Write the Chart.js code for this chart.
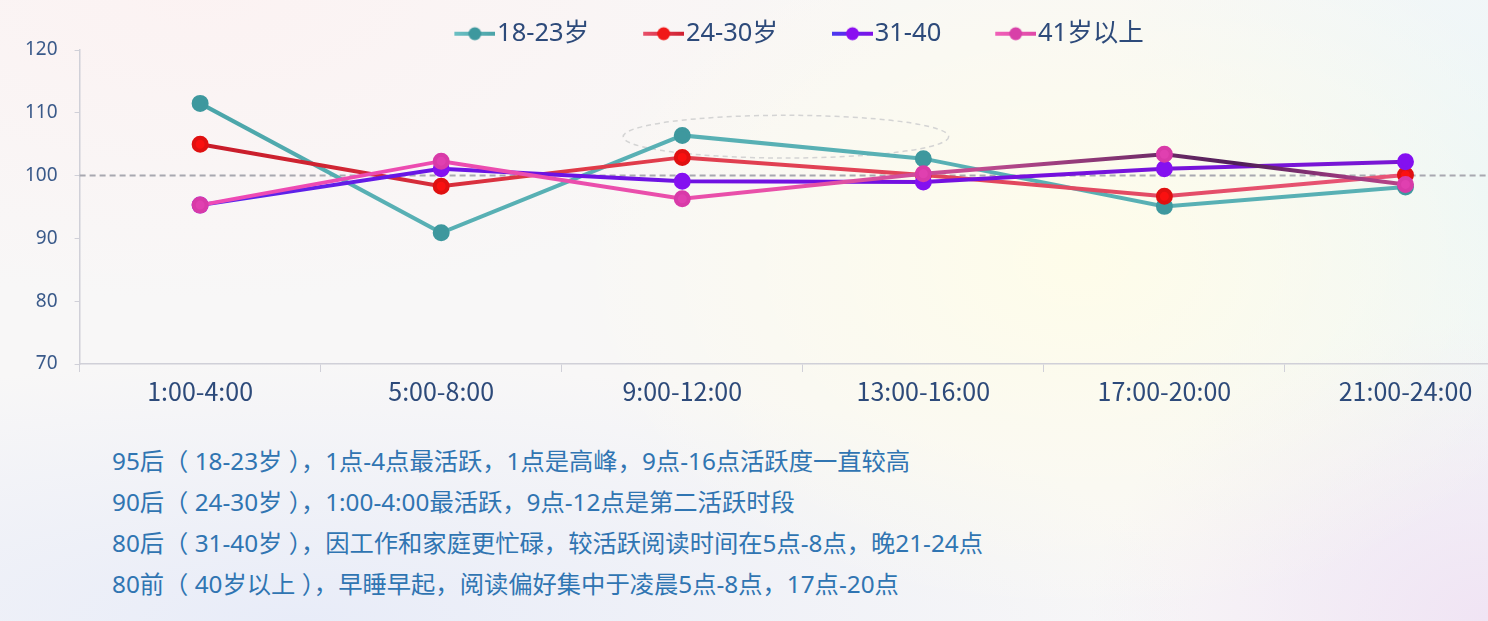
<!DOCTYPE html>
<html lang="zh-CN">
<head>
<meta charset="utf-8">
<title>各年龄段阅读活跃时段</title>
<script src="https://cdn.jsdelivr.net/npm/chart.js@4/dist/chart.umd.min.js"></script>
<style>
    html, body {
        margin: 0;
        padding: 0;
        width: 1488px;
        height: 621px;
        overflow: hidden;
    }
    body {
        position: relative;
        font-family: 'Noto Sans', 'Noto Sans CJK SC', sans-serif;
        background:
            radial-gradient(ellipse 520px 360px at 1080px 260px, rgba(255, 253, 232, 0.9), rgba(255, 253, 232, 0) 100%),
            radial-gradient(ellipse 700px 300px at 200px 0px, rgba(252, 242, 242, 0.9), rgba(252, 242, 242, 0) 100%),
            radial-gradient(ellipse 900px 260px at 300px 621px, rgba(232, 236, 248, 1), rgba(232, 236, 248, 0) 100%),
            radial-gradient(ellipse 400px 300px at 1488px 621px, rgba(240, 228, 244, 1), rgba(240, 228, 244, 0) 100%),
            radial-gradient(ellipse 400px 500px at 1488px 200px, rgba(236, 246, 248, 1), rgba(236, 246, 248, 0) 100%),
            #f8f7f7;
    }
    #chartBox {
        position: absolute;
        left: 0;
        top: 0;
        width: 1600px;
        height: 419px;
    }
    #notes {
        position: absolute;
        left: 112px;
        top: 440px;
        margin: 0;
        padding: 0;
        list-style: none;
        color: #3075b2;
        font-size: 24.3px;
        line-height: 41px;
        white-space: nowrap;
    }
</style>
</head>
<body>
<div id="chartBox"><canvas id="activityChart"></canvas></div>
<ul id="notes"></ul>

<script>
const timeSlots = ['1:00-4:00', '5:00-8:00', '9:00-12:00', '13:00-16:00', '17:00-20:00', '21:00-24:00'];
const seriesNames = ['18-23岁', '24-30岁', '31-40', '41岁以上'];
const age18to23 = [111.5, 90.9, 106.4, 102.7, 95.1, 98.2];
const age24to30 = [105.0, 98.3, 102.9, 100.1, 96.7, 100.1];
const age31to40 = [95.3, 101.1, 99.1, 99.0, 101.1, 102.2];
const age41plus = [95.3, 102.3, 96.3, 100.3, 103.4, 98.6];
const yTicks = [70, 80, 90, 100, 110, 120];
const baseline = 100;
const noteLines = [
    '95后（ 18-23岁 ），1点-4点最活跃，1点是高峰，9点-16点活跃度一直较高',
    '90后（ 24-30岁 ），1:00-4:00最活跃，9点-12点是第二活跃时段',
    '80后（ 31-40岁 ），因工作和家庭更忙碌，较活跃阅读时间在5点-8点，晚21-24点',
    '80前（ 40岁以上 ），早睡早起，阅读偏好集中于凌晨5点-8点，17点-20点'
];

const FONT = "'Noto Sans', 'Noto Sans CJK SC', sans-serif";
const FONT_NARROW = "'Noto Sans CJK SC', 'Noto Sans', sans-serif";

document.getElementById('notes').innerHTML = noteLines.map(t => '<li>' + t + '</li>').join('');

// horizontal gradient across the plot area
function lineGradient(stops, fallback) {
    return function (context) {
        const chart = context.chart;
        const area = chart.chartArea;
        if (!area) return fallback;
        const g = chart.ctx.createLinearGradient(area.left, 0, area.right, 0);
        stops.forEach(s => g.addColorStop(s[0], s[1]));
        return g;
    };
}

// legend marker: short line with a dot, drawn in the right part of the image
const MARK_BOX = 74;
function legendMarker(lineColor, dotColor) {
    const c = document.createElement('canvas');
    c.width = 96;
    c.height = 16;
    const x = c.getContext('2d');
    const g = x.createLinearGradient(55, 0, 96, 0);
    g.addColorStop(0, lineColor[0]);
    g.addColorStop(1, lineColor[1]);
    x.strokeStyle = g;
    x.lineWidth = 4;
    x.beginPath();
    x.moveTo(55, 8);
    x.lineTo(96, 8);
    x.stroke();
    x.fillStyle = dotColor;
    x.beginPath();
    x.arc(75.5, 8, 6.5, 0, Math.PI * 2);
    x.fill();
    return c;
}

const markers = [
    legendMarker(['#6cc0c4', '#4aa3a8'], '#3e989e'),
    legendMarker(['#e8506a', '#d02030'], '#f01818'),
    legendMarker(['#4a3af0', '#8010e8'], '#8a10f0'),
    legendMarker(['#f060b8', '#e04aa8'], '#d840a8')
];

// dashed reference line at 100 and dashed ellipse around 9:00-16:00
const decorations = {
    id: 'decorations',
    beforeDatasetsDraw(chart) {
        const { ctx, chartArea, scales } = chart;
        const y = scales.y.getPixelForValue(baseline);
        ctx.save();
        ctx.strokeStyle = '#a8a8b0';
        ctx.lineWidth = 2;
        ctx.setLineDash([6, 4]);
        ctx.beginPath();
        ctx.moveTo(chartArea.left, y);
        ctx.lineTo(chart.width, y);
        ctx.stroke();

        const x1 = scales.x.getPixelForValue(2);
        const x2 = scales.x.getPixelForValue(3);
        const step = x2 - x1;
        const cx = x1 + step * 0.43;
        const cy = scales.y.getPixelForValue(106.2);
        const ry = scales.y.getPixelForValue(102.8) - cy;
        ctx.strokeStyle = '#d4d4d4';
        ctx.lineWidth = 1.5;
        ctx.setLineDash([5, 4]);
        ctx.beginPath();
        ctx.ellipse(cx, cy, step * 0.675, ry, 0, 0, Math.PI * 2);
        ctx.stroke();
        ctx.restore();
    }
};

// tighten the gap under the legend and nudge it right a little
const legendHeight = {
    id: 'legendHeight',
    beforeInit(chart) {
        const fit = chart.legend.fit;
        chart.legend.fit = function () {
            fit.bind(chart.legend)();
            this.height = 39;
        };
    },
    afterLayout(chart) {
        chart.legend.left += 10;
        chart.legend.right += 10;
    }
};

new Chart(document.getElementById('activityChart'), {
    type: 'line',
    data: {
        labels: timeSlots,
        datasets: [{
            label: seriesNames[0],
            data: age18to23,
            order: 4,
            borderColor: lineGradient([[0, '#3f9ca0'], [0.2, '#58b0b4'], [1, '#58b0b4']], '#58b0b4'),
            borderWidth: 4,
            pointRadius: 6.5,
            pointHoverRadius: 7,
            pointBackgroundColor: '#3e989e',
            pointBorderColor: '#3e989e',
            tension: 0
        }, {
            label: seriesNames[1],
            data: age24to30,
            order: 3,
            borderColor: lineGradient([[0, '#c0101e'], [0.35, '#e03a48'], [0.7, '#e24a62'], [1, '#ea5a80']], '#e03a48'),
            borderWidth: 4,
            pointRadius: 6.5,
            pointHoverRadius: 7,
            pointBackgroundColor: '#fa1010',
            pointBorderColor: '#e01010',
            tension: 0
        }, {
            label: seriesNames[2],
            data: age31to40,
            order: 2,
            borderColor: lineGradient([[0, '#4c34f0'], [0.25, '#6a14e4'], [0.6, '#7410e0'], [1, '#7a18d0']], '#7410e0'),
            borderWidth: 4,
            pointRadius: 6.5,
            pointHoverRadius: 7,
            pointBackgroundColor: '#8410f0',
            pointBorderColor: '#8410f0',
            tension: 0
        }, {
            label: seriesNames[3],
            data: age41plus,
            order: 1,
            borderColor: lineGradient([[0, '#f048b8'], [0.5, '#e850a8'], [0.62, '#c04c90'], [0.8, '#4e1e58'], [0.88, '#a03a80'], [1, '#f060a0']], '#e850a8'),
            borderWidth: 4,
            pointRadius: 6.5,
            pointHoverRadius: 7,
            pointBackgroundColor: '#e040b0',
            pointBorderColor: '#d83aa8',
            tension: 0
        }]
    },
    options: {
        responsive: true,
        maintainAspectRatio: false,
        animation: false,
        layout: {
            padding: { top: 11, left: 8, right: 74, bottom: 9 }
        },
        plugins: {
            legend: {
                display: true,
                position: 'top',
                labels: {
                    color: '#2d4a7a',
                    font: { family: FONT, size: 25.5 },
                    usePointStyle: true,
                    pointStyleWidth: MARK_BOX,
                    padding: 10,
                    sort: (a, b) => a.datasetIndex - b.datasetIndex,
                    generateLabels: chart => chart.data.datasets.map((ds, i) => ({
                        text: ds.label,
                        datasetIndex: i,
                        pointStyle: markers[i],
                        fontColor: '#2d4a7a',
                        hidden: !chart.isDatasetVisible(i),
                        lineWidth: 0,
                        strokeStyle: 'transparent',
                        fillStyle: 'transparent'
                    }))
                }
            },
            tooltip: { enabled: false }
        },
        scales: {
            x: {
                offset: true,
                grid: {
                    offset: true,
                    drawOnChartArea: false,
                    drawTicks: true,
                    tickLength: 8,
                    color: '#d0d0d8'
                },
                border: { display: true, color: '#d0d0d8', width: 1.5 },
                ticks: {
                    color: '#2d4a7a',
                    padding: 4,
                    font: { family: FONT_NARROW, size: 25 }
                }
            },
            y: {
                min: yTicks[0],
                max: yTicks[yTicks.length - 1],
                afterBuildTicks: axis => {
                    axis.ticks = yTicks.map(v => ({ value: v }));
                },
                grid: {
                    drawOnChartArea: false,
                    drawTicks: true,
                    tickLength: 5,
                    color: '#d0d0d8'
                },
                border: { display: true, color: '#d0d0d8', width: 1.5 },
                ticks: {
                    color: '#3a5a8a',
                    padding: 17,
                    font: { family: FONT, size: 19 }
                }
            }
        }
    },
    plugins: [decorations, legendHeight]
});
</script>
</body>
</html>
